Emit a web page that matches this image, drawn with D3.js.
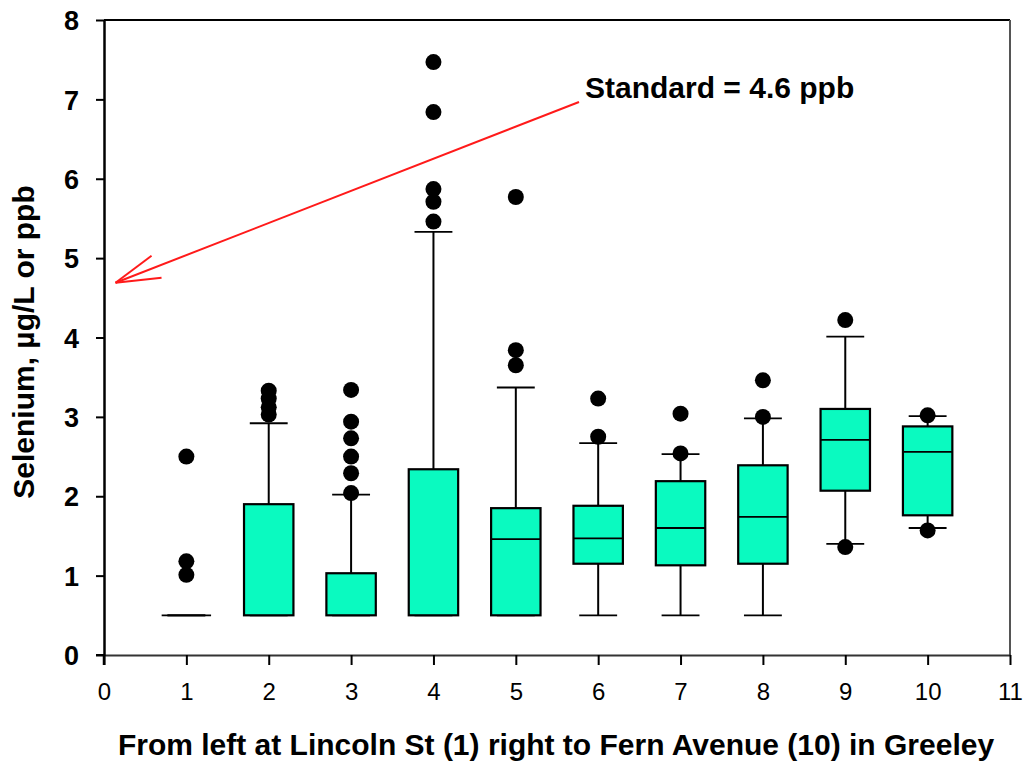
<!DOCTYPE html>
<html><head><meta charset="utf-8">
<script src="https://cdn.jsdelivr.net/npm/d3@7"></script>
<style>
body{margin:0;background:#fff;}
text{font-family:Arial,"Liberation Sans",sans-serif;}
</style></head>
<body>
<svg id="chart" width="1024" height="762"></svg>
<script>
const categories = [1,2,3,4,5,6,7,8,9,10];
const q1 =      [0.5, 0.5, 0.5, 0.5, 0.5, 1.15, 1.13, 1.15, 2.07, 1.76];
const medians = [0.5, 0.5, 0.5, 0.5, 1.46, 1.47, 1.60, 1.74, 2.71, 2.56];
const q3 =      [0.5, 1.90, 1.03, 2.34, 1.85, 1.88, 2.19, 2.39, 3.10, 2.88];
const whiskLo = [0.5, 0.5, 0.5, 0.5, 0.5, 0.5, 0.5, 0.5, 1.40, 1.60];
const whiskHi = [0.5, 2.92, 2.02, 5.33, 3.37, 2.67, 2.53, 2.98, 4.01, 3.01];
const outliers = [
  [2.50, 1.18, 1.01],
  [3.33, 3.23, 3.12, 3.03],
  [3.34, 2.94, 2.73, 2.50, 2.29, 2.04],
  [7.47, 6.84, 5.87, 5.71, 5.46],
  [5.77, 3.84, 3.65],
  [3.23, 2.75],
  [3.04, 2.54],
  [3.46, 3.00],
  [4.22, 1.36],
  [3.02, 1.57]
];
const xTicks = [0,1,2,3,4,5,6,7,8,9,10,11];
const yTicks = [0,1,2,3,4,5,6,7,8];
const xTitle = "From left at Lincoln St (1) right to Fern Avenue (10) in Greeley";
const yTitle = "Selenium, µg/L or ppb";
const annotationText = "Standard = 4.6 ppb";
const standardValue = 4.6;

const svg = d3.select("#chart");
const x = d3.scaleLinear().domain([0,11]).range([104,1010]);
const y = d3.scaleLinear().domain([0,8]).range([655,20]);
const fill = "#0afac0";

// frame
svg.append("line").attr("x1",x(0)).attr("x2",x(11)).attr("y1",y(8)).attr("y2",y(8)).attr("stroke","#000").attr("stroke-width",2);
svg.append("line").attr("x1",x(11)).attr("x2",x(11)).attr("y1",y(8)).attr("y2",y(0)).attr("stroke","#555").attr("stroke-width",2);

// axes
const xAxis = svg.append("g").attr("transform",`translate(0,${y(0)})`)
  .call(d3.axisBottom(x).tickValues(xTicks).tickSize(10).tickSizeOuter(0).tickFormat(d3.format("d")));
xAxis.select(".domain").attr("stroke","#333").attr("stroke-width",2);
xAxis.selectAll(".tick line").attr("stroke","#000").attr("stroke-width",2);
xAxis.selectAll("text").attr("font-size",24).attr("fill","#000").attr("dy","0").attr("y",45);

const yAxis = svg.append("g").attr("transform",`translate(${x(0)},0)`)
  .call(d3.axisLeft(y).tickValues(yTicks).tickSize(8).tickSizeOuter(0).tickFormat(d3.format("d")));
yAxis.select(".domain").attr("stroke","#000").attr("stroke-width",2.5);
yAxis.selectAll(".tick line").attr("stroke","#000").attr("stroke-width",2);
yAxis.selectAll("text").attr("font-size",27).attr("font-weight","bold").attr("fill","#000").attr("x",-25).attr("dy","0.36em");
// extend y axis below to x tick at 0
svg.append("line").attr("x1",x(0)).attr("x2",x(0)).attr("y1",y(0)).attr("y2",y(0)+10).attr("stroke","#000").attr("stroke-width",2.5);
svg.append("line").attr("x1",x(0)-8).attr("x2",x(0)).attr("y1",y(0)).attr("y2",y(0)).attr("stroke","#000").attr("stroke-width",2);

// boxes
const bw = 0.3, cw = 0.23;
const g = svg.append("g");
categories.forEach((c,i)=>{
  const gx = g.append("g");
  if (whiskHi[i] > q3[i]) {
    gx.append("line").attr("x1",x(c)).attr("x2",x(c)).attr("y1",y(q3[i])).attr("y2",y(whiskHi[i])).attr("stroke","#000").attr("stroke-width",2);
  }
  gx.append("line").attr("x1",x(c-cw)).attr("x2",x(c+cw)).attr("y1",y(whiskHi[i])).attr("y2",y(whiskHi[i])).attr("stroke","#000").attr("stroke-width",1.8);
  if (whiskLo[i] < q1[i]) {
    gx.append("line").attr("x1",x(c)).attr("x2",x(c)).attr("y1",y(q1[i])).attr("y2",y(whiskLo[i])).attr("stroke","#000").attr("stroke-width",2);
  }
  gx.append("line").attr("x1",x(c-cw)).attr("x2",x(c+cw)).attr("y1",y(whiskLo[i])).attr("y2",y(whiskLo[i])).attr("stroke","#000").attr("stroke-width",1.8);
  if (q3[i] > q1[i]) {
    gx.append("rect").attr("x",x(c-bw)).attr("width",x(c+bw)-x(c-bw))
      .attr("y",y(q3[i])).attr("height",y(q1[i])-y(q3[i]))
      .attr("fill",fill).attr("stroke","#000").attr("stroke-width",2.2);
    if (medians[i] > q1[i]) {
      gx.append("line").attr("x1",x(c-bw)).attr("x2",x(c+bw)).attr("y1",y(medians[i])).attr("y2",y(medians[i])).attr("stroke","#000").attr("stroke-width",1.8);
    }
  } else {
    gx.append("line").attr("x1",x(c-bw)).attr("x2",x(c+bw)).attr("y1",y(q1[i])).attr("y2",y(q1[i])).attr("stroke","#000").attr("stroke-width",1.8);
  }
  gx.selectAll("circle").data(outliers[i]).join("circle")
    .attr("cx",x(c)).attr("cy",d=>y(d)).attr("r",8).attr("fill","#000");
});

// annotation arrow
const tip = [x(0.14), y(standardValue+0.09)];
const tail = [579, 102];
const red = "#ff1a1a";
svg.append("line").attr("x1",tail[0]).attr("y1",tail[1]).attr("x2",tip[0]).attr("y2",tip[1]).attr("stroke",red).attr("stroke-width",2);
svg.append("line").attr("x1",tip[0]).attr("y1",tip[1]).attr("x2",tip[0]+36).attr("y2",tip[1]-27).attr("stroke",red).attr("stroke-width",2);
svg.append("line").attr("x1",tip[0]).attr("y1",tip[1]).attr("x2",tip[0]+46).attr("y2",tip[1]-5).attr("stroke",red).attr("stroke-width",2);
svg.append("text").attr("x",585).attr("y",98).attr("font-size",30).attr("font-weight","bold").text(annotationText);

// titles
svg.append("text").attr("x",556).attr("y",755).attr("text-anchor","middle").attr("font-size",30).attr("font-weight","bold").text(xTitle);
svg.append("text").attr("transform","translate(34,342) rotate(-90)").attr("text-anchor","middle").attr("font-size",30).attr("font-weight","bold").text(yTitle);
</script>
</body></html>
